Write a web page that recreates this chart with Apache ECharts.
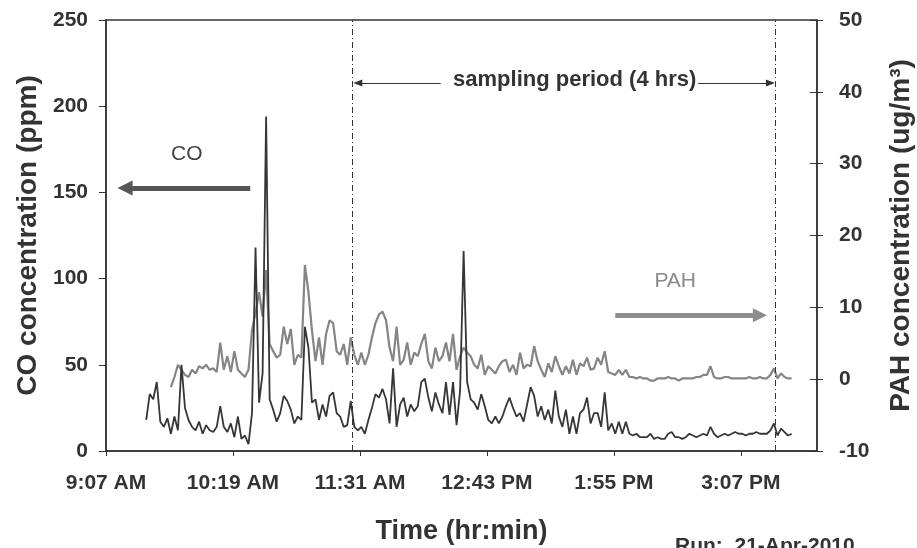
<!DOCTYPE html>
<html>
<head>
<meta charset="utf-8">
<script src="https://cdn.jsdelivr.net/npm/echarts@6/dist/echarts.min.js"></script>
<style>
html,body{margin:0;padding:0;background:#fff;}
#c{width:917px;height:548px;}
</style>
</head>
<body>
<div id="c"></div>
<script>
// ---- time axis (Excel style: 0.38 day .. 0.66 day, major unit 0.05 day = 72 min)
const axisStartMin = 547.2;   // 9:07 AM
const axisEndMin = 950.4;     // 3:50 PM
const tickStepMin = 72;
const timeTickLabels = ['9:07 AM', '10:19 AM', '11:31 AM', '12:43 PM', '1:55 PM', '3:07 PM'];

// ---- logger series (2-minute readings)
const sampleStepMin = 2;
const coStart = '9:30';
const coValues = [
  18,33,30,40,17,14,19,10,20,12, 50,25,18,14,12,17,10,15,12,11,
  14,26,14,11,16,8,20,7,9,4, 22,118,28,45,194,30,24,17,22,32,
  29,24,16,20,18,72,60,28,30,18, 27,20,32,34,22,20,14,15,29,14,
  12,14,10,18,25,33,31,36,30,16, 48,14,27,31,20,27,23,26,40,42,
  31,23,34,27,22,40,21,40,15,35, 116,40,30,28,24,33,26,18,16,20,
  16,20,26,31,25,20,22,17,27,37, 32,20,26,18,24,16,35,20,14,24,
  10,20,10,22,24,31,16,22,22,14, 34,12,16,10,17,10,17,10,9,10,
  8,8,8,10,7,8,7,7,10,11, 8,8,7,8,10,9,8,9,10,9,
  14,10,8,9,10,9,10,11,10,10, 9,10,10,11,10,10,10,12,16,9,
  13,11,9,10
];
const pahStart = '9:44';
const pahValues = [
  -1.1,0.3,2.0,1.3,0.6,0.3,1.3,0.8,1.8,1.5,
  2.0,1.3,1.5,1.0,5.1,1.3,3.2,1.0,3.9,1.3,
  0.8,0.3,1.3,6.8,9.2,12.1,8.7,15.2,4.9,3.9,
  3.0,3.4,7.3,4.9,7.0,2.0,3.4,3.0,15.9,12.1,
  6.8,2.5,5.8,2.0,6.3,8.2,7.8,3.9,3.4,4.9,
  2.0,5.8,3.4,2.0,3.7,2.0,3.4,5.8,7.8,9.0,
  9.4,8.2,4.4,2.5,7.3,2.0,2.7,5.1,2.0,3.7,
  3.2,4.9,6.3,2.5,1.5,4.4,2.5,3.2,5.1,2.5,
  6.3,1.3,3.2,4.4,3.7,3.2,2.0,1.5,3.4,0.6,
  1.8,1.3,0.8,1.8,2.5,2.7,1.0,2.0,0.6,3.7,
  1.5,2.0,1.8,4.6,2.5,1.3,0.3,2.2,1.0,3.2,
  1.8,0.6,1.8,0.8,2.7,0.6,2.2,1.8,3.0,1.3,
  1.5,3.0,2.0,3.9,1.0,0.8,0.6,1.3,0.6,1.3,
  0.3,0.3,0.1,0.3,0.1,0.1,-0.2,-0.2,0.1,0.1,
  0.1,0.3,0.1,0.1,-0.2,0.1,0.1,0.1,0.1,0.3,
  0.3,0.6,0.6,1.8,0.3,0.1,0.1,0.3,0.3,0.1,
  0.1,0.1,0.1,0.1,0.3,0.1,0.1,0.3,0.1,0.1,
  0.6,1.5,0.1,0.8,0.3,0.1,0.1
];

// ---- annotations (clock time, axis value)
const samplingPeriod = ['11:27', '15:27'];
const samplingText = {time: '13:33', co: 215, text: 'sampling period (4 hrs)'};
const samplingArrows = [['12:17', '11:30'], ['14:43', '15:24']];
const samplingArrowCo = 213.5;
const coNote = {time: '9:53', co: 172, text: 'CO'};
const coArrow = {from: '10:29', to: '9:18', co: 152.5};
const pahNote = {time: '14:30', pah: 13.7, text: 'PAH'};
const pahArrow = {from: '13:56', to: '15:18', pah: 8.9};

function clockToMin(s) { const p = s.split(':').map(Number); return p[0] * 60 + p[1]; }
function toX(s) { return clockToMin(s) - axisStartMin; }

const coData = coValues.map((v, i) => [toX(coStart) + i * sampleStepMin, v]);
const pahData = pahValues.map((v, i) => [toX(pahStart) + i * sampleStepMin, v]);
const tickVals = timeTickLabels.map((_, i) => i * tickStepMin);

const font = '"Liberation Sans", Arial, Helvetica, sans-serif';
const ink = '#333';

const chart = echarts.init(document.getElementById('c'), null, {renderer: 'canvas'});
chart.setOption({
  animation: false,
  backgroundColor: '#fff',
  textStyle: {fontFamily: font},
  grid: {left: 106, right: 100, top: 20, bottom: 97, containLabel: false, outerBoundsMode: 'none',
    show: true, borderColor: ink, borderWidth: 1.5, backgroundColor: 'rgba(0,0,0,0)'},
  xAxis: {
    type: 'value', min: 0, max: axisEndMin - axisStartMin, interval: tickStepMin,
    name: 'Time (hr:min)', nameLocation: 'middle', nameGap: 67,
    nameTextStyle: {fontFamily: font, fontSize: 27, fontWeight: 'bold', color: ink},
    axisLine: {show: true, lineStyle: {color: ink, width: 1.5}},
    axisTick: {show: true, length: 5, lineStyle: {color: ink, width: 1}, customValues: tickVals},
    axisLabel: {margin: 22, fontFamily: font, fontSize: 21, fontWeight: 'bold', color: ink,
      customValues: tickVals,
      formatter: v => { const i = Math.round(v / tickStepMin); return timeTickLabels[i] || ''; }},
    splitLine: {show: false}
  },
  yAxis: [
    {
      type: 'value', position: 'left', min: 0, max: 250, interval: 50,
      name: 'CO concentration (ppm)', nameLocation: 'middle', nameGap: 60,
      nameTextStyle: {fontFamily: font, fontSize: 28, fontWeight: 'bold', color: ink},
      axisLine: {show: true, lineStyle: {color: ink, width: 1.5}},
      axisTick: {show: true, length: 7, lineStyle: {color: ink, width: 1}},
      axisLabel: {margin: 18, fontFamily: font, fontSize: 21, fontWeight: 'bold', color: ink},
      splitLine: {show: false}
    },
    {
      type: 'value', position: 'right', min: -10, max: 50, interval: 10,
      name: 'PAH concentration (ug/m³)', nameLocation: 'middle', nameGap: 70,
      nameTextStyle: {fontFamily: font, fontSize: 28, fontWeight: 'bold', color: ink},
      axisLine: {show: true, lineStyle: {color: ink, width: 1.5}},
      axisTick: {show: true, length: 6, lineStyle: {color: ink, width: 1}},
      axisLabel: {margin: 22, fontFamily: font, fontSize: 21, fontWeight: 'bold', color: ink},
      splitLine: {show: false}
    },
    {
      type: 'value', position: 'right', min: -10, max: 50, interval: 10,
      axisLine: {show: false},
      axisTick: {show: true, inside: true, length: 7, lineStyle: {color: ink, width: 1}},
      axisLabel: {show: false},
      splitLine: {show: false}
    }
  ],
  series: [
    {
      name: 'PAH', type: 'line', yAxisIndex: 1, data: pahData, showSymbol: false, symbol: 'none',
      lineStyle: {color: '#858585', width: 2.2}, z: 2,
      markLine: {
        silent: true, symbol: 'none', label: {show: false},
        data: [[
          {coord: [toX(pahArrow.from), pahArrow.pah], symbol: 'none', lineStyle: {color: '#8c8c8c', width: 5, type: 'solid'}},
          {coord: [toX(pahArrow.to), pahArrow.pah], symbol: 'triangle', symbolSize: [14, 14]}
        ]]
      },
      markPoint: {
        silent: true, symbol: 'circle', symbolSize: 1, itemStyle: {color: 'rgba(0,0,0,0)'},
        data: [{coord: [toX(pahNote.time), pahNote.pah],
          label: {show: true, position: 'inside', formatter: pahNote.text, fontFamily: font, fontSize: 21, color: '#8a8a8a'}}]
      }
    },
    {
      name: 'CO', type: 'line', yAxisIndex: 0, data: coData, showSymbol: false, symbol: 'none',
      lineStyle: {color: '#363636', width: 1.8}, z: 3,
      markLine: {
        silent: true, symbol: 'none', label: {show: false},
        data: [
          {xAxis: toX(samplingPeriod[0]), lineStyle: {color: ink, width: 1, type: [6, 3, 1, 3]}},
          {xAxis: toX(samplingPeriod[1]), lineStyle: {color: ink, width: 1, type: [6, 3, 1, 3]}},
          [
            {coord: [toX(samplingArrows[0][0]), samplingArrowCo], symbol: 'none', lineStyle: {color: ink, width: 1, type: 'solid'}},
            {coord: [toX(samplingArrows[0][1]), samplingArrowCo], symbol: 'triangle', symbolSize: [7, 9]}
          ],
          [
            {coord: [toX(samplingArrows[1][0]), samplingArrowCo], symbol: 'none', lineStyle: {color: ink, width: 1, type: 'solid'}},
            {coord: [toX(samplingArrows[1][1]), samplingArrowCo], symbol: 'triangle', symbolSize: [7, 9]}
          ],
          [
            {coord: [toX(coArrow.from), coArrow.co], symbol: 'none', lineStyle: {color: '#555', width: 5, type: 'solid'}},
            {coord: [toX(coArrow.to), coArrow.co], symbol: 'triangle', symbolSize: [15, 15]}
          ]
        ]
      },
      markPoint: {
        silent: true, symbol: 'circle', symbolSize: 1, itemStyle: {color: 'rgba(0,0,0,0)'},
        data: [
          {coord: [toX(coNote.time), coNote.co],
            label: {show: true, position: 'inside', formatter: coNote.text, fontFamily: font, fontSize: 21, color: '#444'}},
          {coord: [toX(samplingText.time), samplingText.co],
            label: {show: true, position: 'inside', formatter: samplingText.text, fontFamily: font, fontSize: 22, fontWeight: 'bold', color: ink}}
        ]
      }
    }
  ],
  graphic: [
    {type: 'text', left: 675, top: 536, silent: true,
      style: {text: 'Run:  21-Apr-2010', fontFamily: font, fontSize: 21, fontWeight: 'bold', fill: ink}}
  ]
});
</script>
</body>
</html>
